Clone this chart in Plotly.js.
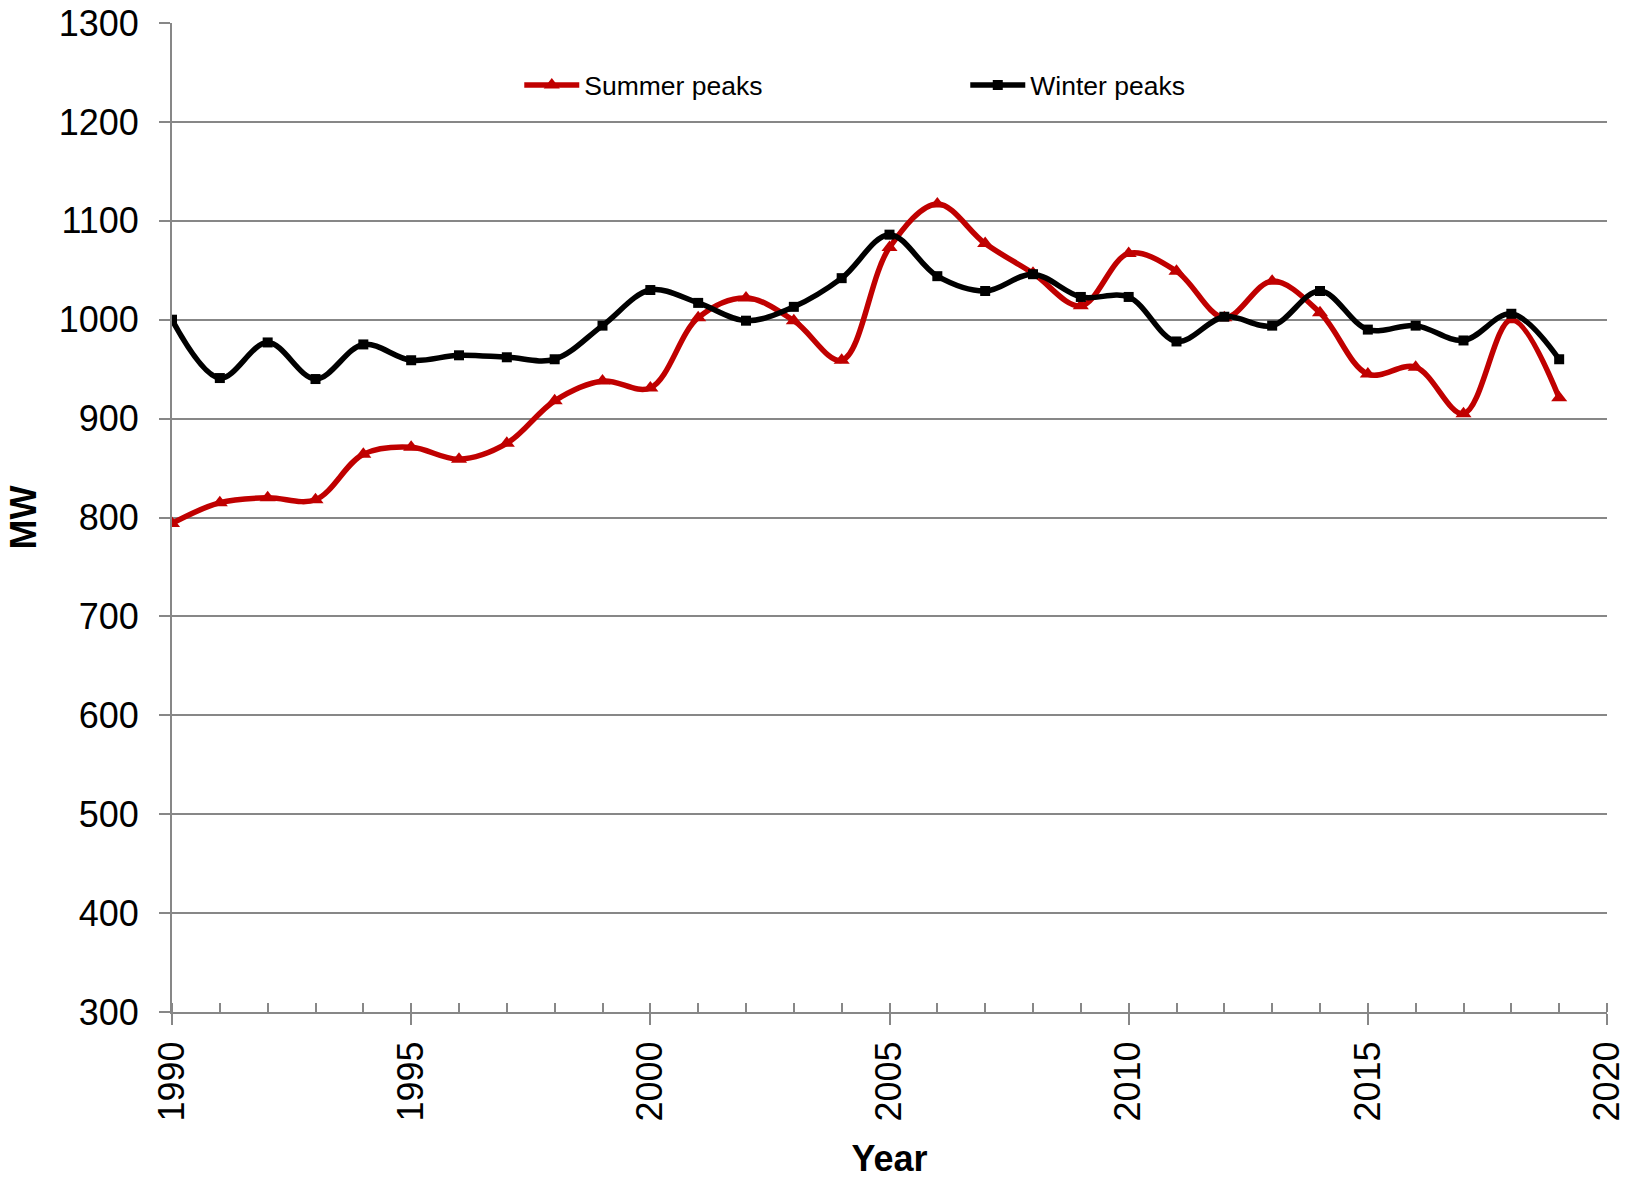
<!DOCTYPE html>
<html>
<head>
<meta charset="utf-8">
<script src="https://cdn.plot.ly/plotly-3.0.1.min.js"></script>
<style>html,body{margin:0;padding:0;background:#fff;}#chart{width:1630px;height:1179px;}</style>
</head>
<body>
<div id="chart"></div>
<script>
const years = [1990,1991,1992,1993,1994,1995,1996,1997,1998,1999,2000,2001,2002,2003,2004,2005,2006,2007,2008,2009,2010,2011,2012,2013,2014,2015,2016,2017,2018,2019];
const summerPeaks = [794,815,820,818,864,871,859,875,918,938,931,1002,1022,999,959,1073,1117,1077,1047,1014,1067,1049,1002,1039,1007,945,952,905,1000,921];
const winterPeaks = [1000,941,977,940,975,959,964,962,960,994,1030,1017,999,1013,1042,1086,1044,1029,1046,1023,1023,978,1003,994,1029,990,994,979,1006,960];
const xTickVals = [1990,1995,2000,2005,2010,2015,2020];
const yTickVals = [300,400,500,600,700,800,900,1000,1100,1200,1300];

const FONT = 'Liberation Sans, Arial, sans-serif';
const GRAY = '#878787';

const traces = [
  {
    x: years, y: summerPeaks, name: 'Summer peaks', type: 'scatter', mode: 'lines+markers',
    line: {color: '#C00000', width: 5.5, shape: 'spline', smoothing: 1},
    marker: {symbol: 'triangle-up', size: 14, color: '#C00000'}
  },
  {
    x: years, y: winterPeaks, name: 'Winter peaks', type: 'scatter', mode: 'lines+markers',
    line: {color: '#000000', width: 5.5, shape: 'spline', smoothing: 1},
    marker: {symbol: 'square', size: 10, color: '#000000'}
  }
];

const layout = {
  width: 1630, height: 1179,
  margin: {l: 172, r: 23, t: 23, b: 167},
  paper_bgcolor: '#ffffff', plot_bgcolor: '#ffffff',
  font: {family: FONT, color: '#000'},
  showlegend: true,
  legend: {
    orientation: 'h', x: 0.242, xanchor: 'left', y: 0.937, yanchor: 'middle',
    font: {family: FONT, size: 26.5, color: '#000'}, entrywidth: 376, entrywidthmode: 'pixels',
    itemwidth: 55,
    bgcolor: 'rgba(0,0,0,0)'
  },
  xaxis: {
    range: [1990, 2020], tickmode: 'array', tickvals: xTickVals, ticktext: xTickVals.map(String),
    tickangle: -90, ticks: 'outside', ticklen: 11, tickwidth: 2, tickcolor: GRAY,
    minor: {tickmode: 'linear', tick0: 1990, dtick: 1, ticks: 'inside', ticklen: 9, tickwidth: 2, tickcolor: GRAY, showgrid: false},
    showline: true, linecolor: GRAY, linewidth: 2, showgrid: false, zeroline: false,
    tickfont: {family: FONT, size: 36, color: '#000'}, ticklabelstandoff: 2,
    title: {text: '<b>Year</b>', font: {family: FONT, size: 36, color: '#000'}, standoff: 34}
  },
  yaxis: {
    range: [300, 1300], tickmode: 'array', tickvals: yTickVals, ticktext: yTickVals.map(String),
    ticks: 'outside', ticklen: 11, tickwidth: 2, tickcolor: GRAY,
    showline: true, linecolor: GRAY, linewidth: 2,
    showgrid: true, gridcolor: GRAY, gridwidth: 2, zeroline: false,
    tickfont: {family: FONT, size: 36, color: '#000'}, ticklabelstandoff: 13,
    title: {text: '<b>MW</b>', font: {family: FONT, size: 36, color: '#000'}, standoff: 11}
  }
};

Plotly.newPlot('chart', traces, layout, {displayModeBar: false, responsive: false});
</script>
</body>
</html>
